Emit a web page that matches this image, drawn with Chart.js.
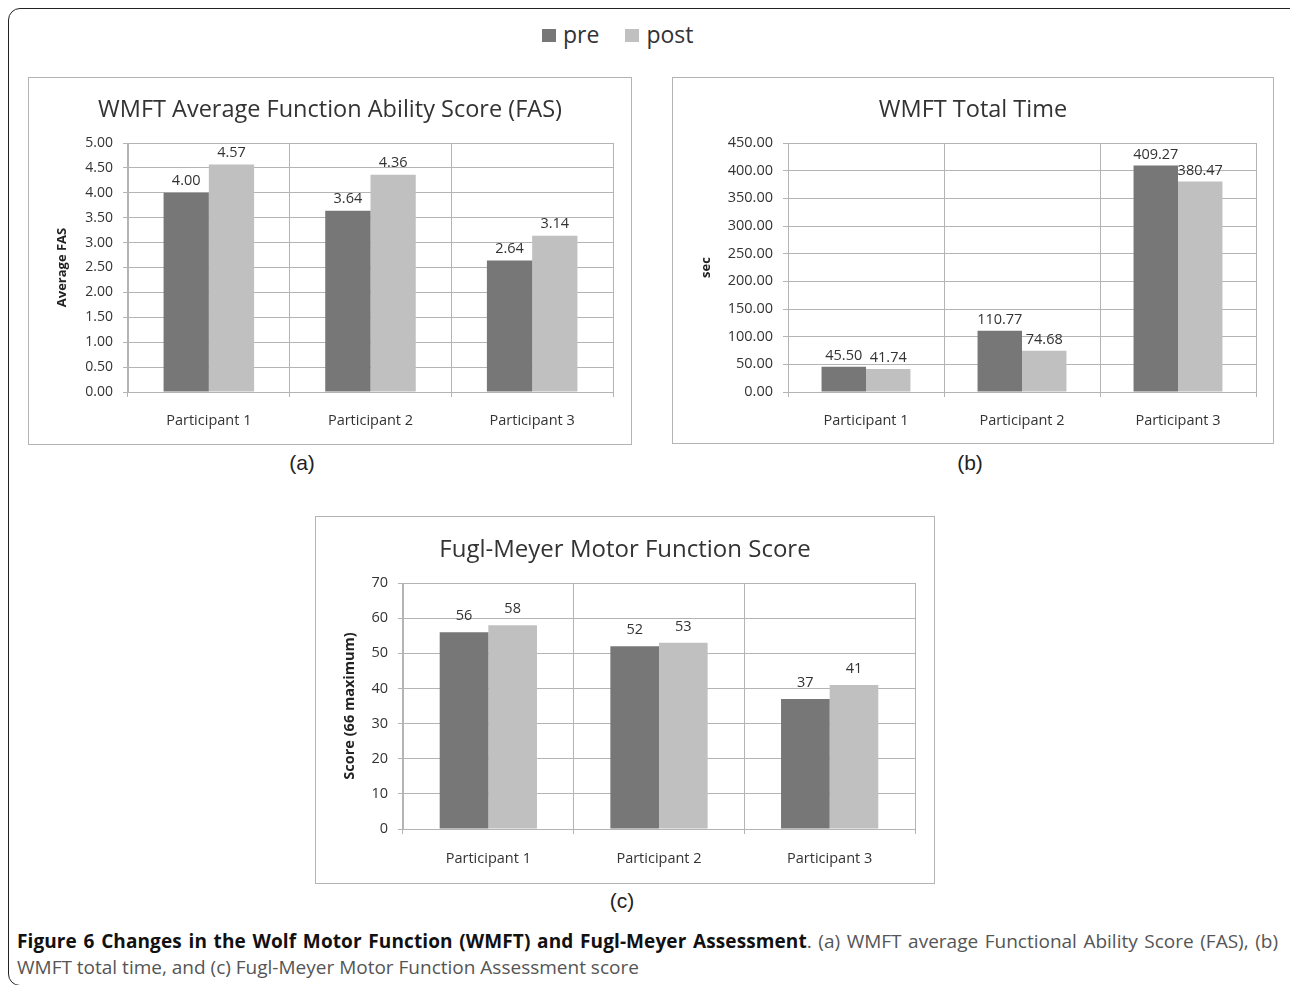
<!DOCTYPE html>
<html>
<head>
<meta charset="utf-8">
<script src="https://cdn.jsdelivr.net/npm/chart.js@4.4.1/dist/chart.umd.min.js"></script>
<style>
  html, body { margin: 0; padding: 0; }
  body { width: 1290px; height: 985px; overflow: hidden; background: #fff; position: relative; font-family: "Open Sans", sans-serif; }
  .frame { position: absolute; left: 8px; top: 8px; width: 1300px; height: 978px; border: 1.5px solid #222; border-radius: 12px; box-sizing: border-box; }
  .box { position: absolute; border: 1.5px solid #b4b4b4; box-sizing: border-box; }
  .cw { position: absolute; }
  .legend { position: absolute; top: 18px; left: 542px; font-size: 23px; color: #333; white-space: nowrap; }
  .legend span.sw { display: inline-block; width: 14px; height: 13px; vertical-align: 1px; margin-right: 7px; }
  .legend span.item { margin-right: 26px; }
  .sub { position: absolute; font-family: "Liberation Sans", Arial, sans-serif; font-size: 21px; color: #222; transform: translateX(-50%); white-space: nowrap; }
  .cap { position: absolute; left: 17px; width: 1261px; font-size: 19px; line-height: 26px; color: #555; white-space: nowrap; }
  .cap1 { top: 928px; text-align: justify; text-align-last: justify; white-space: normal; }
  .cap2 { top: 954px; }
  .cap b { color: #111; letter-spacing: 0.1px; }
</style>
</head>
<body>
<div class="frame"></div>

<div class="legend"><span class="item"><span class="sw" style="background:#777777"></span>pre</span><span class="sw" style="background:#c0c0c0"></span>post</div>

<div class="box" style="left:28px;top:77px;width:604px;height:368px;"></div>
<div class="cw" style="left:28px;top:77px;width:604px;height:368px;"><canvas id="cA"></canvas></div>

<div class="box" style="left:672px;top:77px;width:602px;height:367px;"></div>
<div class="cw" style="left:672px;top:77px;width:602px;height:367px;"><canvas id="cB"></canvas></div>

<div class="box" style="left:315px;top:516px;width:620px;height:368px;"></div>
<div class="cw" style="left:315px;top:516px;width:620px;height:368px;"><canvas id="cC"></canvas></div>

<div class="sub" style="left:302px;top:451px;">(a)</div>
<div class="sub" style="left:970px;top:451px;">(b)</div>
<div class="sub" style="left:622px;top:889px;">(c)</div>

<div class="cap cap1"><b>Figure 6 Changes in the Wolf Motor Function (WMFT) and Fugl-Meyer Assessment</b>. (a) WMFT average Functional Ability Score (FAS), (b)</div>
<div class="cap cap2">WMFT total time, and (c) Fugl-Meyer Motor Function Assessment score</div>

<script>
// ---- data ----
const categories = ["Participant 1", "Participant 2", "Participant 3"];
const seriesNames = ["pre", "post"];
const fasPre  = [4.00, 3.64, 2.64];
const fasPost = [4.57, 4.36, 3.14];
const timePre  = [45.50, 110.77, 409.27];
const timePost = [41.74, 74.68, 380.47];
const fmPre  = [56, 52, 37];
const fmPost = [58, 53, 41];
const fasTicks  = { min: 0, max: 5, step: 0.5, decimals: 2 };
const timeTicks = { min: 0, max: 450, step: 50, decimals: 2 };
const fmTicks   = { min: 0, max: 70, step: 10, decimals: 0 };

const preColor = "#777777";
const postColor = "#c0c0c0";
const gridColor = "#b4b4b4";
const textColor = "#333333";
const FONT = "'Open Sans', sans-serif";

const valueLabels = {
  id: "valueLabels",
  afterDatasetsDraw(chart, args, opts) {
    const ctx = chart.ctx;
    ctx.save();
    ctx.font = opts.size + "px " + FONT;
    ctx.fillStyle = textColor;
    ctx.textAlign = "center";
    ctx.textBaseline = "middle";
    chart.data.datasets.forEach((ds, i) => {
      const meta = chart.getDatasetMeta(i);
      meta.data.forEach((el, j) => {
        ctx.fillText(Number(ds.data[j]).toFixed(opts.decimals), el.x, el.y - opts.offset);
      });
    });
    ctx.restore();
  }
};

function makeChart(id, title, yTitle, pre, post, tk, g) {
  const lh = g.titleSize * 1.2;
  return new Chart(document.getElementById(id), {
    type: "bar",
    data: {
      labels: categories,
      datasets: [
        { label: seriesNames[0], data: pre, backgroundColor: preColor, borderWidth: 0, barPercentage: 1, categoryPercentage: g.catPct },
        { label: seriesNames[1], data: post, backgroundColor: postColor, borderWidth: 0, barPercentage: 1, categoryPercentage: g.catPct }
      ]
    },
    options: {
      responsive: true,
      maintainAspectRatio: false,
      animation: false,
      devicePixelRatio: 1,
      layout: { padding: 0 },
      plugins: {
        legend: { display: false },
        tooltip: { enabled: false },
        title: {
          display: true, text: title, color: textColor,
          font: { family: FONT, size: g.titleSize, weight: "normal", lineHeight: 1.2 },
          padding: { top: g.titleCenter - lh / 2, bottom: g.plotTop - g.titleCenter - lh / 2 }
        },
        valueLabels: { size: g.valSize, decimals: tk.decimals, offset: g.valOffset }
      },
      scales: {
        x: {
          grid: { display: true, offset: true, color: gridColor, lineWidth: 1, drawTicks: true, tickLength: 5, tickColor: gridColor },
          border: { display: true, color: gridColor, width: 1 },
          ticks: { color: textColor, font: { family: FONT, size: g.catSize }, padding: g.catPad, maxRotation: 0 },
          afterFit(s) { s.height = g.xHeight; }
        },
        y: {
          min: tk.min, max: tk.max,
          grid: { color: gridColor, lineWidth: 1, drawTicks: true, tickLength: 5, tickColor: gridColor },
          border: { display: true, color: gridColor, width: 1 },
          ticks: { stepSize: tk.step, color: textColor, font: { family: FONT, size: g.tickSize }, padding: 10,
                   callback: v => Number(v).toFixed(tk.decimals) },
          title: { display: true, text: yTitle, color: "#222", font: { family: FONT, size: g.yTitleSize, weight: "bold", lineHeight: 1.2 },
                   padding: { top: g.yTitleCenter - g.yTitleSize * 0.6, bottom: 0 } },
          afterFit(s) { s.width = g.plotLeft; }
        },
        spacer: {
          type: "linear", position: "right", display: true, min: tk.min, max: tk.max,
          grid: { display: false, drawTicks: false }, border: { display: false }, ticks: { display: false },
          afterFit(s) { s.width = g.padRight; }
        }
      }
    },
    plugins: [valueLabels]
  });
}

makeChart("cA", "WMFT Average Function Ability Score (FAS)", "Average FAS", fasPre, fasPost, fasTicks,
  { plotLeft: 100, padRight: 19, plotTop: 66, xHeight: 53, titleCenter: 33, titleSize: 23.5, yTitleCenter: 34, yTitleSize: 13,
    tickSize: 14, catSize: 14.5, catPad: 15, catPct: 0.56, valSize: 14.5, valOffset: 12 });

makeChart("cB", "WMFT Total Time", "sec", timePre, timePost, timeTicks,
  { plotLeft: 116, padRight: 18, plotTop: 66, xHeight: 52, titleCenter: 33, titleSize: 23.5, yTitleCenter: 34, yTitleSize: 13,
    tickSize: 14.5, catSize: 14.5, catPad: 15, catPct: 0.57, valSize: 14.5, valOffset: 11 });

makeChart("cC", "Fugl-Meyer Motor Function Score", "Score (66 maximum)", fmPre, fmPost, fmTicks,
  { plotLeft: 88, padRight: 20, plotTop: 67, xHeight: 55, titleCenter: 34, titleSize: 24, yTitleCenter: 35, yTitleSize: 14.5,
    tickSize: 14.5, catSize: 14.5, catPad: 16, catPct: 0.57, valSize: 14.5, valOffset: 16 });
</script>
</body>
</html>
